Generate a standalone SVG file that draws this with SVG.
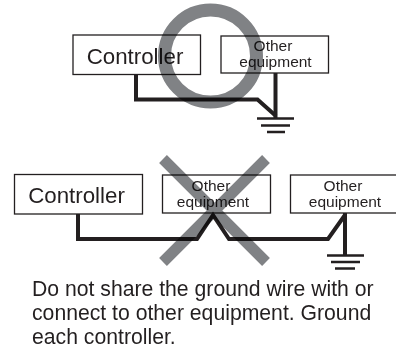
<svg xmlns="http://www.w3.org/2000/svg" width="396" height="348" viewBox="0 0 396 348">
<style>
.box{fill:#fff;stroke:#231f20;stroke-width:1.3}
.t{font-family:"Liberation Sans",Arial,sans-serif;fill:#231f20;text-anchor:middle}
.big{font-size:22.3px}
.small{font-size:15.500px}
.note{font-size:21.200px;text-anchor:start}
.wire{fill:none;stroke:#231f20;stroke-width:4;stroke-linejoin:miter}
.gnd{fill:none;stroke:#231f20;stroke-width:2.6}
.mark{fill:none;stroke:#808285;mix-blend-mode:multiply}
</style>
<g id="controller-top"><rect class="box" x="73" y="35" width="127.500" height="39.500"/><text class="t big" x="135" y="63.500">Controller</text></g>
<g id="equipment-top"><rect class="box" x="221" y="36" width="107.500" height="37"/><text class="t small" x="273" y="51">Other</text><text class="t small" x="275.500" y="67">equipment</text></g>
<g id="controller-bottom"><rect class="box" x="14.500" y="174.500" width="128" height="39.500"/><text class="t big" x="76.500" y="203">Controller</text></g>
<g id="equipment-middle"><rect class="box" x="162.500" y="175" width="108" height="38"/><text class="t small" x="211" y="191">Other</text><text class="t small" x="213" y="207">equipment</text></g>
<g id="equipment-right"><rect class="box" x="290.500" y="175" width="107" height="38"/><text class="t small" x="343" y="191">Other</text><text class="t small" x="345" y="207">equipment</text></g>
<g id="connectors">
<path class="wire" d="M136 74.500V99.500H257.500L276 116"/>
<path class="wire" d="M275.500 73V118"/>
<path class="gnd" d="M257 118.500H294M261 125.500H290M267 132H285"/>
<path class="wire" d="M78 214V239H197L213 215L229 239H328L345 215"/>
<path class="wire" d="M345 213V255"/>
<path class="gnd" d="M327 255.500H364M331 262H360M335 268.500H355"/>
</g>
<g id="ok-mark"><circle class="mark" cx="210.500" cy="56" r="46" stroke-width="13"/></g>
<g id="ng-mark"><path class="mark" stroke-width="11" d="M163 159L266 262M266 159L163 262"/></g>
<g id="note">
<text class="t note" x="32" y="296">Do not share the ground wire with or</text>
<text class="t note" x="32" y="320">connect to other equipment. Ground</text>
<text class="t note" x="32" y="344">each controller.</text>
</g>
</svg>
